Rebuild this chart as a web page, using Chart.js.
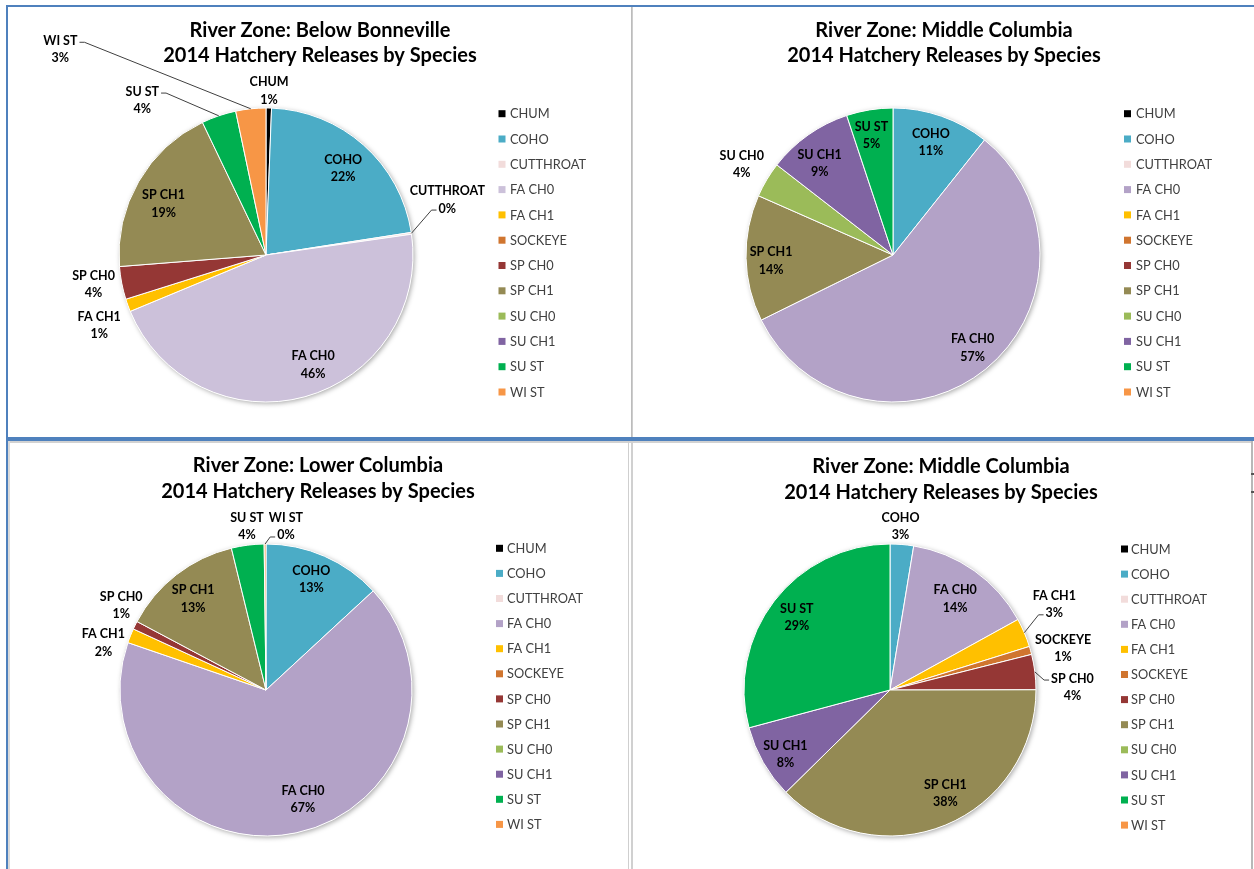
<!DOCTYPE html>
<html><head><meta charset="utf-8">
<script src="https://cdn.jsdelivr.net/npm/chart.js@4.4.0/dist/chart.umd.min.js"></script>
<style>
html,body{margin:0;padding:0;background:#fff;}
body{width:1254px;height:869px;overflow:hidden;position:relative;font-family:Lato,sans-serif;}
canvas{position:absolute;}
.ln{position:absolute;z-index:2;}
</style></head><body>
<canvas id="c1"></canvas>
<canvas id="c2"></canvas>
<canvas id="c3"></canvas>
<canvas id="c4"></canvas>

<div class="ln" style="left:6px;top:5px;width:1248px;height:2px;background:#4f81bd"></div>
<div class="ln" style="left:6px;top:5px;width:2px;height:864px;background:#4f81bd"></div>
<div class="ln" style="left:631px;top:7px;width:2px;height:430px;background:linear-gradient(to right,#b3b3b3,#d6d6d6)"></div>
<div class="ln" style="left:6px;top:437px;width:1248px;height:4px;background:#4f81bd"></div>
<div class="ln" style="left:8px;top:441px;width:1244px;height:2px;background:#d2d2d2"></div>
<div class="ln" style="left:8px;top:441px;width:2px;height:428px;background:#dadada"></div>
<div class="ln" style="left:628px;top:441px;width:1px;height:428px;background:#cfcfcf"></div>
<div class="ln" style="left:631px;top:441px;width:2px;height:428px;background:#d0d0d0"></div>
<div class="ln" style="left:1251px;top:441px;width:2px;height:428px;background:#b8b8b8"></div>
<div class="ln" style="left:1251px;top:473px;width:3px;height:2px;background:#555"></div>
<div class="ln" style="left:1251px;top:491px;width:3px;height:2px;background:#555"></div>

<script>
// ---------- data ----------
const categories = ['CHUM','COHO','CUTTHROAT','FA CH0','FA CH1','SOCKEYE','SP CH0','SP CH1','SU CH0','SU CH1','SU ST','WI ST'];
const titleLine2 = '2014 Hatchery Releases by Species';

const zoneBelowBonneville = [0.6, 21.9, 0.2, 45.9, 1.4, 0, 3.6, 19.1, 0, 0, 3.8, 3.3];
const zoneMiddleColumbiaA = [0, 10.7, 0, 57.0, 0, 0, 0, 13.9, 3.9, 9.4, 5.1, 0];
const zoneLowerColumbia   = [0, 13.1, 0, 67.0, 1.6, 0, 0.9, 13.4, 0, 0, 3.6, 0.2];
const zoneMiddleColumbiaB = [0, 2.6, 0, 14.4, 3.2, 0.9, 3.9, 37.7, 0, 8.2, 29.2, 0];

// ---------- styles ----------
const speciesColors = ['#000000','#4bacc6','#f2dcdb','#b3a2c7','#ffc000','#d0752f','#953735','#948a54','#9bbb59','#8064a2','#00b050','#f79646'];
const speciesColorsBB = speciesColors.slice(); speciesColorsBB[3] = '#ccc1da';

// label placement: [radius factor, angle offset (deg) from slice middle, leader line]
const placeBB = [[1.12,0,0],[0.79,0,0],[1.29,-8.6,1],[0.81,-8,0],[1.23,-2.7,0],null,[1.19,1.4,0],[0.78,-3.3,0],null,null,[1.35,-19.8,1],[1.98,-39,1]];
const placeMCA = [null,[0.81,-0.7,0],null,[0.83,-1.8,0],null,null,null,[0.83,-1.3,0],[1.20,0.2,0],[0.80,-3.3,0],[0.83,-1,0],null];
const placeLC = [null,[0.82,-1.4,0],null,[0.79,-6.8,0],[1.16,-5.6,0],null,[1.15,4.1,0],[0.80,-0.7,0],null,null,[1.13,0.6,0],[1.13,7.3,1]];
const placeMCB = [null,[1.125,-1,0],null,[0.77,0.2,0],[1.27,-4.5,1],[1.22,2.1,0],[1.25,6.1,1],[0.80,-6,0],null,[0.84,-1.7,0],[0.81,0.5,0],null];

const panels = [
  {id:'c1', box:[8,7,623,430], title:['River Zone: Below Bonneville', titleLine2], titleX:320, titleY:[37,62],
   cx:266, cy:255, r:147, values:zoneBelowBonneville, colors:speciesColorsBB, place:placeBB,
   legend:{sq:498.5, tx:510, y0:113.7, dy:25.3}},
  {id:'c2', box:[634,7,620,430], title:['River Zone: Middle Columbia', titleLine2], titleX:944, titleY:[37,62],
   cx:893, cy:255, r:147, values:zoneMiddleColumbiaA, colors:speciesColors, place:placeMCA,
   legend:{sq:1124, tx:1136, y0:113.7, dy:25.3}},
  {id:'c3', box:[9,443,618,426], title:['River Zone: Lower Columbia', titleLine2], titleX:318, titleY:[472,498],
   cx:266, cy:690, r:146, values:zoneLowerColumbia, colors:speciesColors, place:placeLC,
   legend:{sq:496, tx:507, y0:548.3, dy:25.1}},
  {id:'c4', box:[634,443,617,426], title:['River Zone: Middle Columbia', titleLine2], titleX:941, titleY:[473,499],
   cx:890, cy:690, r:146, values:zoneMiddleColumbiaB, colors:speciesColors, place:placeMCB,
   legend:{sq:1121, tx:1131, y0:549, dy:25.1}}
];

function makeDecor(p) {
  const bx = p.box[0], by = p.box[1];
  return {
    id: 'decor_' + p.id,
    beforeDatasetsDraw(chart) {
      const arc = chart.getDatasetMeta(0).data[0];
      const ctx = chart.ctx;
      ctx.save();
      ctx.shadowColor = 'rgba(0,0,0,0.35)';
      ctx.shadowBlur = 5;
      ctx.shadowOffsetX = 1.5;
      ctx.shadowOffsetY = 1.5;
      ctx.beginPath();
      ctx.arc(arc.x, arc.y, arc.outerRadius, 0, Math.PI * 2);
      ctx.fillStyle = '#ffffff';
      ctx.fill();
      ctx.restore();
    },
    afterDatasetsDraw(chart) {
      const ctx = chart.ctx;
      const meta = chart.getDatasetMeta(0);
      const vals = chart.data.datasets[0].data;
      const total = vals.reduce((a, b) => a + b, 0);
      ctx.save();
      ctx.textBaseline = 'alphabetic';
      // title
      ctx.fillStyle = '#000';
      ctx.font = 'bold 20px Lato';
      ctx.textAlign = 'center';
      p.title.forEach((t, k) => ctx.fillText(t, p.titleX - bx, p.titleY[k] - by));
      // legend
      ctx.font = '12.8px Lato';
      ctx.textAlign = 'left';
      chart.data.labels.forEach((c, i) => {
        const y = p.legend.y0 + i * p.legend.dy - by;
        ctx.fillStyle = p.colors[i];
        ctx.fillRect(p.legend.sq - bx, y - 3.5, 7, 7);
        ctx.fillStyle = '#404040';
        ctx.fillText(c, p.legend.tx - bx, y + 4.6);
      });
      // data labels
      ctx.font = 'bold 12.5px Lato';
      ctx.textAlign = 'center';
      vals.forEach((v, i) => {
        const pl = p.place[i];
        if (!(v > 0) || !pl) return;
        const a = meta.data[i];
        const mid = (a.startAngle + a.endAngle) / 2;
        const R = a.outerRadius;
        const ang = mid + pl[1] * Math.PI / 180;
        const ax = a.x + Math.cos(ang) * pl[0] * R;
        const ay = a.y + Math.sin(ang) * pl[0] * R;
        const name = chart.data.labels[i];
        const pct = Math.round(v / total * 100) + '%';
        ctx.fillStyle = '#000';
        ctx.fillText(name, ax, ay - 4.3);
        ctx.fillText(pct, ax, ay + 13.2);
        if (pl[2]) {
          const ex = a.x + Math.cos(mid) * R, ey = a.y + Math.sin(mid) * R;
          const cands = [];
          [[name, ay - 8.75], [pct, ay + 8.75]].forEach(([t, ly]) => {
            const w = ctx.measureText(t).width;
            [ax - w / 2 - 2, ax + w / 2 + 2].forEach(x => cands.push({x: x, y: ly + 2}));
          });
          let best = cands[0], bd = Infinity;
          cands.forEach(c => { const d = Math.hypot(c.x - ex, c.y - ey); if (d < bd) { bd = d; best = c; } });
          const dir = ex > best.x ? 1 : -1;
          ctx.strokeStyle = '#404040';
          ctx.lineWidth = 1;
          ctx.beginPath();
          ctx.moveTo(best.x, best.y);
          ctx.lineTo(best.x + dir * 5, best.y);
          ctx.lineTo(ex, ey);
          ctx.stroke();
        }
      });
      ctx.restore();
    }
  };
}

panels.forEach(p => {
  const cv = document.getElementById(p.id);
  const [bx, by, bw, bh] = p.box;
  cv.style.left = bx + 'px';
  cv.style.top = by + 'px';
  cv.width = bw; cv.height = bh;
  cv.style.width = bw + 'px'; cv.style.height = bh + 'px';
  new Chart(cv, {
    type: 'pie',
    data: {
      labels: categories,
      datasets: [{
        data: p.values,
        backgroundColor: p.colors,
        borderColor: '#ffffff',
        borderWidth: 1,
        radius: p.r
      }]
    },
    options: {
      responsive: false,
      animation: false,
      events: [],
      devicePixelRatio: 1,
      layout: { padding: {
        left: p.cx - p.r - bx,
        top: p.cy - p.r - by,
        right: bw - (p.cx + p.r - bx),
        bottom: bh - (p.cy + p.r - by)
      }},
      plugins: { legend: {display: false}, title: {display: false}, tooltip: {enabled: false} }
    },
    plugins: [makeDecor(p)]
  });
});
</script>
</body></html>
